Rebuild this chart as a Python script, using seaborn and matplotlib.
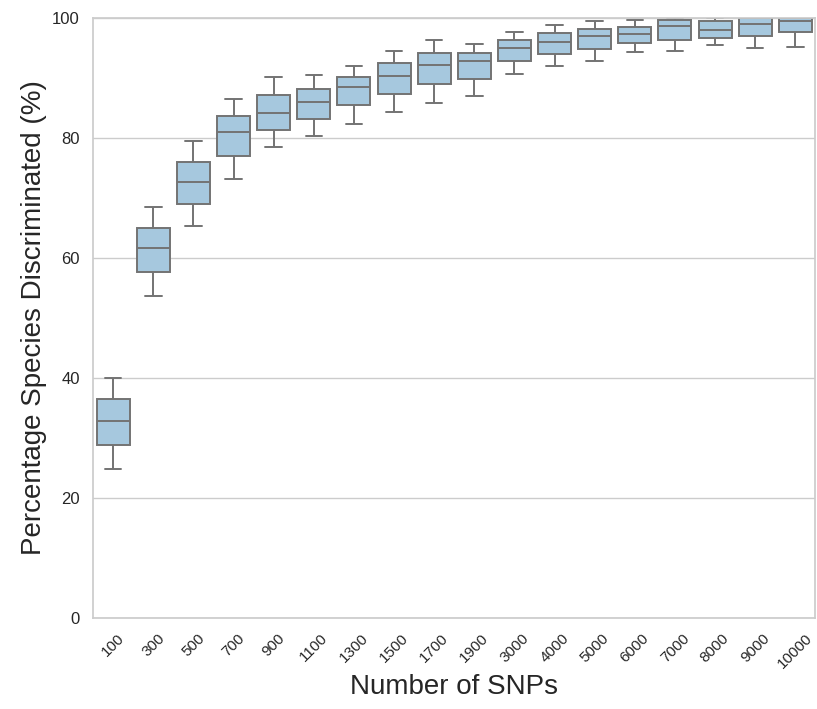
import numpy as np
import pandas as pd
import seaborn as sns
import matplotlib.pyplot as plt

# SNP counts on the x axis
snps = ['100', '300', '500', '700', '900', '1100', '1300', '1500', '1700',
        '1900', '3000', '4000', '5000', '6000', '7000', '8000', '9000', '10000']

# five-number summaries: min, q1, median, q3, max
lows    = [24.8, 53.6, 65.3, 73.2, 78.4, 80.3, 82.3, 84.3, 85.8,
           86.9, 90.7, 92.0, 92.8, 94.3, 94.5, 95.4, 95.0, 95.2]
q1s     = [28.9, 57.6, 68.9, 77.0, 81.3, 83.2, 85.4, 87.3, 89.0,
           89.8, 92.8, 94.0, 94.8, 95.8, 96.3, 96.6, 97.0, 97.6]
medians = [32.9, 61.6, 72.6, 80.9, 84.2, 85.9, 88.5, 90.3, 92.1,
           92.8, 95.0, 96.0, 96.9, 97.3, 98.6, 97.9, 99.0, 99.4]
q3s     = [36.5, 65.0, 75.9, 83.7, 87.1, 88.2, 90.2, 92.4, 94.2,
           94.2, 96.3, 97.4, 98.1, 98.4, 99.7, 99.5, 100.0, 100.0]
highs   = [40.0, 68.5, 79.4, 86.5, 90.1, 90.5, 91.9, 94.5, 96.3,
           95.6, 97.6, 98.8, 99.4, 99.6, 100.0, 100.0, 100.0, 100.0]


def main():
    rows = []
    for i, s in enumerate(snps):
        for v in (lows[i], q1s[i], medians[i], q3s[i], highs[i]):
            rows.append({'snps': s, 'pct': v})
    df = pd.DataFrame(rows)

    sns.set_theme(style='whitegrid')
    plt.rcParams['font.family'] = ['Liberation Sans', 'DejaVu Sans']

    fig = plt.figure(figsize=(8.17, 7.09), dpi=100)
    ax = fig.add_axes([0.114, 0.128, 0.884, 0.847])

    sns.boxplot(data=df, x='snps', y='pct', order=snps, color='#a6c8de',
                saturation=1, linecolor='#737373', linewidth=1.4,
                whis=np.inf, width=0.82, ax=ax)

    ax.set_ylim(0, 100)
    ax.set_yticks([0, 20, 40, 60, 80, 100])
    ax.set_xlabel('Number of SNPs', fontsize=20, labelpad=2)
    ax.set_ylabel('Percentage Species Discriminated (%)', fontsize=20)
    ax.tick_params(axis='y', labelsize=12)
    ax.tick_params(axis='x', labelsize=11)
    plt.setp(ax.get_xticklabels(), rotation=45)
    for sp in ax.spines.values():
        sp.set_color('#cccccc')

    fig.savefig('out.png', dpi=100)


if __name__ == "__main__":
    main()
